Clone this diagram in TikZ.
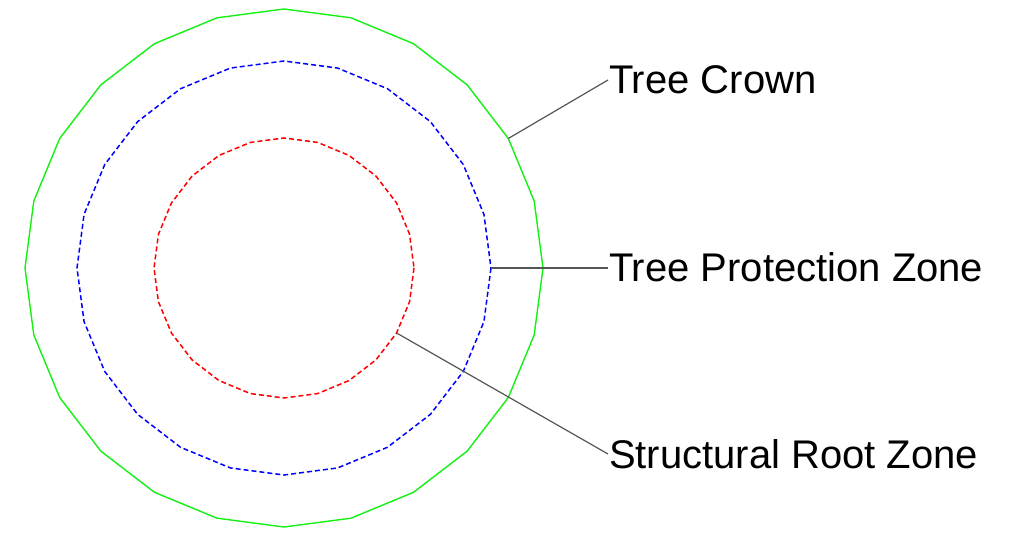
\documentclass[tikz,border=0pt]{standalone}
\usepackage{fontspec}
\setmainfont{Liberation Sans}
\definecolor{crowngreen}{RGB}{20,240,20}
\definecolor{leadergray}{RGB}{85,85,85}
\begin{document}
\begin{tikzpicture}[x=1pt,y=-1pt,
  crown/.style={draw=crowngreen,line width=1.4pt,line join=round},
  tpz/.style={draw=blue,line width=1.5pt,dash pattern=on 5pt off 3pt},
  srz/.style={draw=red,line width=1.5pt,dash pattern=on 5pt off 3pt},
  leader/.style={draw=leadergray,line width=1.2pt},
  lbl/.style={font=\fontsize{40}{40}\selectfont,anchor=base west,inner xsep=1pt,inner ysep=0pt,outer sep=0pt,text height=28pt,text depth=0pt}]
\useasboundingbox (0,0) rectangle (1018,540);
\coordinate (c) at (284,268);
% polygons
\draw[crown,shift={(c)}] (0:259) \foreach \a in {15,30,...,345}{ -- (\a:259)} -- cycle;
\draw[tpz,shift={(c)}] (0:207) \foreach \a in {15,30,...,345}{ -- (\a:207)} -- cycle;
\draw[srz,shift={(c)}] (0:130) \foreach \a in {15,30,...,345}{ -- (\a:130)} -- cycle;
% leader start points
\coordinate (pc) at (508.3,138.5);
\coordinate (pp) at (491,268);
\coordinate (pr) at (396.6,333);
% labels
\node[lbl] (lc) at (608,94) {Tree Crown};
\node[lbl] (lp) at (608,282) {Tree Protection Zone};
\node[lbl] (lr) at (608,468) {Structural Root Zone};
\draw[leader] (pc) -- (lc.west);
\draw[leader] (pp) -- (lp.west);
\draw[leader] (pr) -- (lr.west);
\end{tikzpicture}
\end{document}
